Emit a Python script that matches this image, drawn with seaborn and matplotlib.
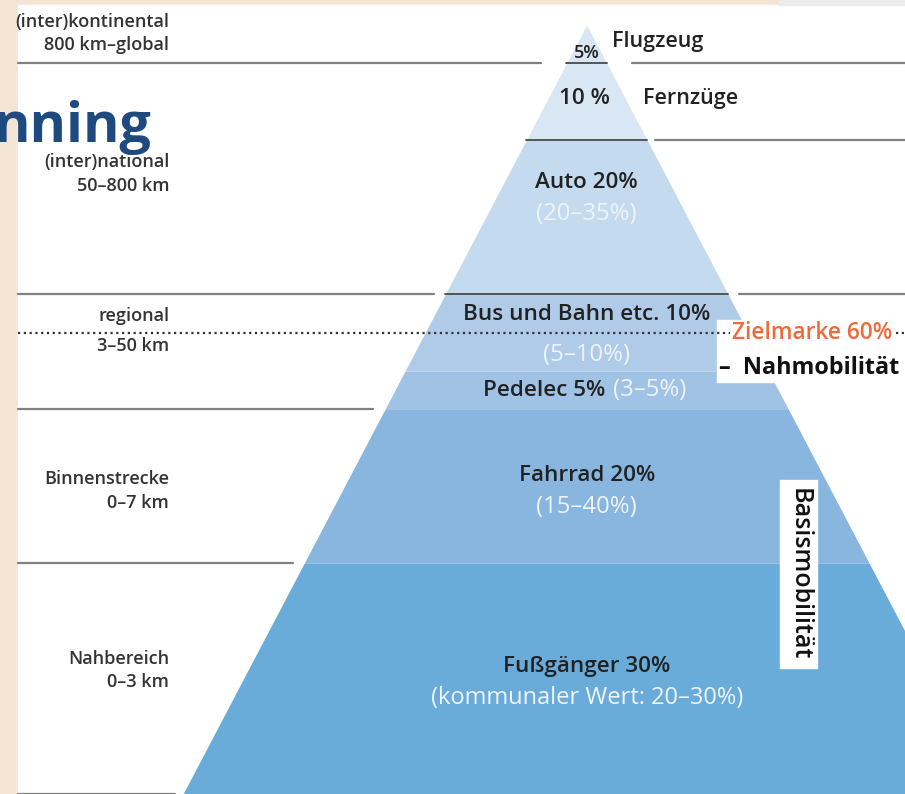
"""Mobility pyramid: modal split targets by distance zone."""

import matplotlib

matplotlib.use("Agg")

import matplotlib.pyplot as plt
import seaborn as sns

# pyramid bands, bottom first (shares in percent of all trips)
modes = ["Fußgänger", "Fahrrad", "Pedelec", "Bus und Bahn etc.", "Auto", "Fernzüge", "Flugzeug"]
shares = [30, 20, 5, 10, 20, 10, 5]
share_labels = ["30%", "20%", "5%", "10%", "20%", "10 %", "5%"]
ranges = ["(kommunaler Wert: 20–30%)", "(15–40%)", "(3–5%)", "(5–10%)", "(20–35%)", "", ""]
band_colors = ["#6aacd9", "#88b6df", "#a0c3e5", "#afcbe8", "#c4daef", "#d9e6f3", "#d9e6f3"]

# distance zones on the left, bottom first
zones = ["Nahbereich", "Binnenstrecke", "regional", "(inter)national", "(inter)kontinental"]
zone_ranges = ["0–3 km", "0–7 km", "3–50 km", "50–800 km", "800 km–global"]
zone_bounds = [0, 30, 50, 65, 95]

target_share = 60

SLOPE = 0.525
LEFT, RIGHT, TOP = -74.0, 41.4, 102.6
LINE = "#808080"
DARK = "#222222"
LIGHT = "#eef4fa"
FS = 16.2
FS_RANGE = 17.2


def half_width(level):
    return SLOPE * (100 - level)


sns.set_theme(style="white")
plt.rcParams["font.family"] = ["Open Sans", "DejaVu Sans"]

fig = plt.figure(figsize=(9.05, 7.94), dpi=100, facecolor="#f4e4d3")
ax = fig.add_axes([0, 0, 1, 1])
ax.set_xlim(-76.3, 41.4)
ax.set_ylim(0, 103.25)
ax.set_facecolor("#f4e4d3")
ax.axis("off")

# white sheet
ax.fill_between([LEFT, RIGHT], 0, TOP, color="white", zorder=0)
ax.fill_between([25, RIGHT], TOP, 103.25, color="#ececec", zorder=0)

# pyramid bands
cum = [0]
for s in shares:
    cum.append(cum[-1] + s)
for i, mode in enumerate(modes):
    lo, hi = cum[i], cum[i + 1]
    ax.fill_betweenx(
        [lo, hi],
        [-half_width(lo), -half_width(hi)],
        [half_width(lo), half_width(hi)],
        color=band_colors[i],
        lw=0,
        zorder=1,
    )

# separator lines (inner + outer segments)
separators = {95: (True, True, True, 3.3), 85: (False, True, True, 1.0), 65: (True, True, True, 1.5),
              50: (True, False, False, 1.5), 30: (True, False, False, 1.5), 0: (True, False, False, 1.0)}
for level, (left_seg, inner, right_seg, gap) in separators.items():
    w = half_width(level)
    if left_seg:
        ax.plot([LEFT, -w - gap], [level, level], color=LINE, lw=1.6, zorder=2)
    if inner:
        ax.plot([-w, w], [level, level], color="#555555", lw=1.4, zorder=2)
    if right_seg:
        ax.plot([w + gap, RIGHT], [level, level], color=LINE, lw=1.6, zorder=2)

# target marker: 60 % local mobility
ax.fill_between([16.9, RIGHT], 53.6, 61.6, color="white", zorder=3)
ax.plot([LEFT, 18.6], [target_share, target_share], color="#333333", lw=1.6,
        ls=(0, (1, 1.6)), zorder=4)
ax.text(18.9, target_share, "Zielmarke 60%", color="#f0693a", fontsize=16.3,
        weight="semibold", va="center", ha="left", zorder=5)
ax.plot([40.2, RIGHT], [target_share, target_share], color="#333333", lw=1.6,
        ls=(0, (1, 1.6)), zorder=4)
ax.text(17.2, 55.4, "–  Nahmobilität", color="#111111", fontsize=16.8,
        weight="bold", va="center", ha="left", zorder=5)

# Basismobilität tag
ax.fill_between([25.2, 30.0], 16.4, 40.8, color="white", zorder=3)
ax.text(27.6, 28.6, "Basismobilität", rotation=270, color="#111111", fontsize=18,
        weight="semibold", va="center", ha="center", zorder=5)

# zone labels on the left
zone_label_y = [16.0, 39.4, 60.2, 80.6, 98.9]
zone_spacing = [3.0, 3.0, 3.8, 3.1, 3.1]
for name, dist, y, sp in zip(zones, zone_ranges, zone_label_y, zone_spacing):
    ax.text(-54.3, y + sp / 2, name, ha="right", va="center", fontsize=13,
            color="#333333", weight="semibold")
    ax.text(-54.3, y - sp / 2, dist, ha="right", va="center", fontsize=13,
            color="#333333", weight="semibold")

# labels inside the pyramid
main_y = {0: 16.6, 1: 41.4, 3: 62.4, 4: 79.5}
range_y = {0: 12.5, 1: 37.3, 3: 57.1, 4: 75.4}
for i in main_y:
    ax.text(0, main_y[i], f"{modes[i]} {share_labels[i]}", ha="center", va="center",
            fontsize=FS, color=DARK, weight="semibold", zorder=5)
    ax.text(0, range_y[i], ranges[i], ha="center", va="center",
            fontsize=FS_RANGE if i else 17, color=LIGHT, zorder=5)

ax.text(2.4, 52.5, f"{modes[2]} {share_labels[2]}", ha="right", va="center",
        fontsize=FS, color=DARK, weight="semibold", zorder=5)
ax.text(3.4, 52.5, ranges[2], ha="left", va="center", fontsize=FS_RANGE, color=LIGHT, zorder=5)

ax.text(-0.3, 90.5, share_labels[5], ha="center", va="center", fontsize=FS,
        color=DARK, weight="semibold", zorder=5)
ax.text(7.3, 90.5, modes[5], ha="left", va="center", fontsize=15.5,
        color=DARK, weight="semibold", zorder=5)
ax.text(0, 96.3, share_labels[6], ha="center", va="center", fontsize=13,
        color=DARK, weight="semibold", zorder=5)
ax.text(3.3, 97.9, modes[6], ha="left", va="center", fontsize=15.5,
        color=DARK, weight="semibold", zorder=5)

# slide title peeking in from the left
ax.text(-56.6, 84.8, "nning", ha="right", va="baseline", fontsize=40,
        color="#1f4a80", weight="bold", zorder=6)

fig.savefig("out.png", dpi=100, facecolor=fig.get_facecolor())
